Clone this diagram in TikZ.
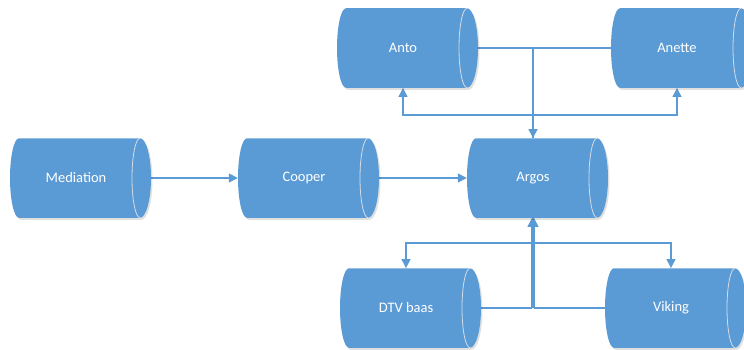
\documentclass[tikz,border=0pt]{standalone}
\usepackage{fontspec}
\setmainfont{Carlito}
\usetikzlibrary{arrows.meta,calc}
\definecolor{cylblue}{HTML}{5B9BD5}
\definecolor{cylrim}{HTML}{D3DCE6}
\pgfdeclarelayer{edges}
\pgfdeclarelayer{bodies}
\pgfsetlayers{edges,bodies,main}
% outline of a horizontal cylinder around node #1, shifted by (#2,#3)
\newcommand\cylpath[3]{%
  ($(#1.center)+(-57+#2,39.75+#3)$) -- ($(#1.center)+(64+#2,39.75+#3)$)
  arc[start angle=90,end angle=-90,x radius=11pt,y radius=39.75pt]
  -- ($(#1.center)+(-57+#2,-39.75+#3)$)
  arc[start angle=270,end angle=90,x radius=9pt,y radius=39.75pt] -- cycle}
\begin{document}
\begin{tikzpicture}[x=1pt,y=1pt,
  store/.style={minimum width=132pt,minimum height=79.5pt,inner sep=0pt,
    text=white,font=\fontsize{14.5}{17}\selectfont},
  plain/.style={draw=cylblue,line width=1.4pt},
  link/.style={plain,-{Triangle[length=9pt,width=9pt]}}]
\useasboundingbox (0,0) rectangle (744,349);

% stores
\node[store] (med)    at (76,171)  {Mediation};
\node[store] (coo)    at (304,171) {Cooper};
\node[store] (arg)    at (533,171) {Argos};
\node[store] (anto)   at (403,301) {Anto};
\node[store] (anette) at (677,301) {Anette};
\node[store] (dtv)    at (406,41)  {DTV baas};
\node[store] (vik)    at (671,41)  {Viking};

% cylinder bodies
\begin{pgfonlayer}{bodies}
\foreach \n in {med,coo,arg,anto,anette,dtv,vik}{
  \fill[black,opacity=.12] \cylpath{\n}{1.5}{-2};
  \fill[cylblue] \cylpath{\n}{0}{0};
  \draw[cylrim,line width=.8pt] ($(\n.center)+(64,39.75)$)
    arc[start angle=90,end angle=270,x radius=8pt,y radius=39.75pt];
}
\end{pgfonlayer}

% connectors
\begin{pgfonlayer}{edges}
\coordinate (jt) at (533,301);
\coordinate (bt) at (533,234);
\coordinate (bb) at (533,106);
\coordinate (jb1) at (532,41);
\coordinate (jb2) at (534,41);

\draw[link] (med.east) -- (coo.west);
\draw[link] (coo.east) -- (arg.west);

\draw[plain] (anto.east) -- (jt);
\draw[plain] (anette.west) -- (jt);
\draw[link] (jt) -- (arg.north);
\draw[link] (arg.north) -- (bt) -| (anto.south);
\draw[link] (arg.north) -- (bt) -| (anette.south);

\draw[link] (arg.south) -- (bb) -| (dtv.north);
\draw[link] (arg.south) -- (bb) -| (vik.north);
\draw[plain] (dtv.east) -- (jb1);
\draw[link] (jb1) -- ([xshift=-1pt]arg.south);
\draw[plain] (vik.west) -- (jb2);
\draw[link] (jb2) -- ([xshift=1pt]arg.south);
\end{pgfonlayer}
\end{tikzpicture}
\end{document}
